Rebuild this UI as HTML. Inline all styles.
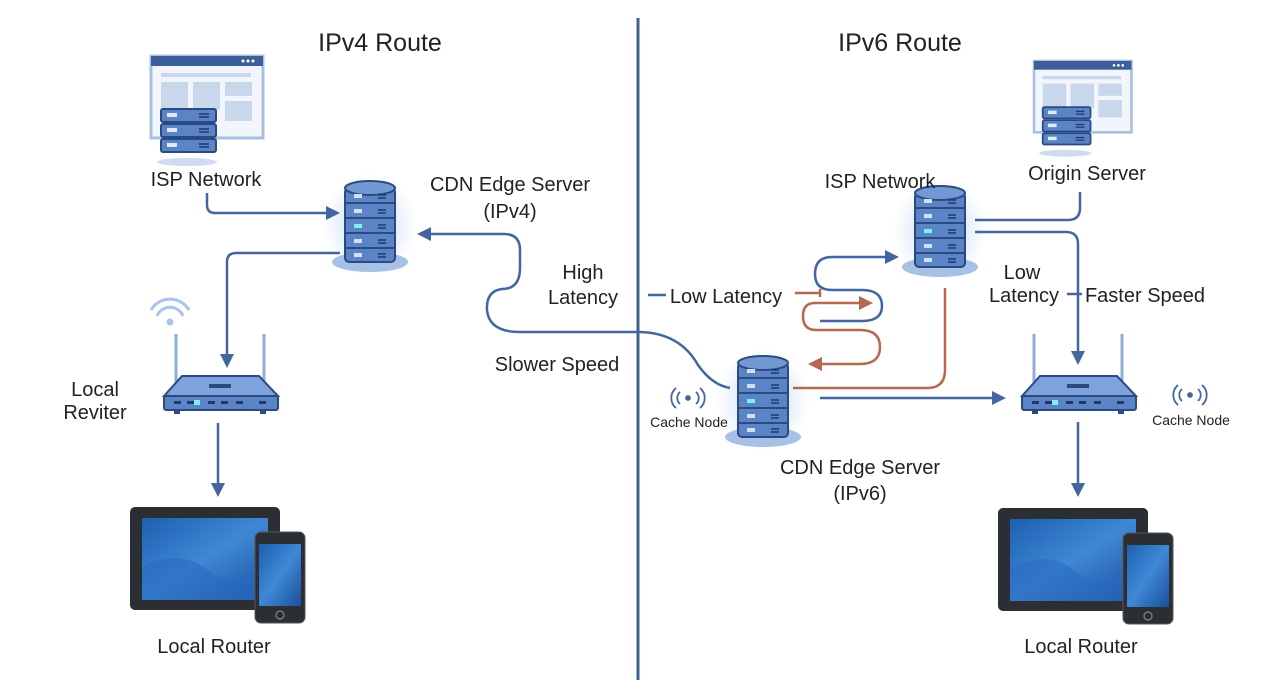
<!DOCTYPE html>
<html><head><meta charset="utf-8"><style>
html,body{margin:0;padding:0;background:#fff;}
svg{display:block;font-family:"Liberation Sans",sans-serif;}
</style></head><body>
<svg width="1280" height="698" viewBox="0 0 1280 698" xmlns="http://www.w3.org/2000/svg">
<defs>
<radialGradient id="glow"><stop offset="0" stop-color="#9fbde9" stop-opacity="0.8"/><stop offset="1" stop-color="#c9dcf5" stop-opacity="0"/></radialGradient>
<linearGradient id="scr" x1="0" y1="0" x2="1" y2="1"><stop offset="0" stop-color="#1d5fb0"/><stop offset="0.5" stop-color="#3f88d6"/><stop offset="1" stop-color="#1a4f9a"/></linearGradient>
<g id="db">
<ellipse cx="28" cy="45" rx="48" ry="52" fill="url(#glow)"/>
<ellipse cx="28" cy="82" rx="38" ry="10" fill="#a7c0e6"/>
<rect x="3" y="8" width="50" height="74" rx="4" fill="#5a84c6" stroke="#2c4a82" stroke-width="2"/>
<ellipse cx="28" cy="8" rx="25" ry="7" fill="#7399d4" stroke="#2c4a82" stroke-width="2"/>
<g stroke="#2c4a82" stroke-width="2"><line x1="3" y1="23" x2="53" y2="23"/><line x1="3" y1="38" x2="53" y2="38"/><line x1="3" y1="53" x2="53" y2="53"/><line x1="3" y1="68" x2="53" y2="68"/></g>
<g fill="#cfe0f7"><rect x="12" y="14" width="8" height="4"/><rect x="12" y="29" width="8" height="4"/><rect x="12" y="44" width="8" height="4" fill="#7ef0f0"/><rect x="12" y="59" width="8" height="4"/><rect x="12" y="73" width="8" height="4"/></g>
<g stroke="#213a6b" stroke-width="1.5"><line x1="36" y1="15" x2="44" y2="15"/><line x1="36" y1="18" x2="44" y2="18"/><line x1="36" y1="30" x2="44" y2="30"/><line x1="36" y1="33" x2="44" y2="33"/><line x1="36" y1="45" x2="44" y2="45"/><line x1="36" y1="48" x2="44" y2="48"/><line x1="36" y1="60" x2="44" y2="60"/><line x1="36" y1="63" x2="44" y2="63"/><line x1="36" y1="74" x2="44" y2="74"/><line x1="36" y1="77" x2="44" y2="77"/></g>
</g>
<g id="win">
<rect x="0" y="0" width="112" height="82" fill="#f2f6fc" stroke="#a9bfe0" stroke-width="3"/>
<rect x="0" y="0" width="112" height="10" fill="#3d5f98"/>
<g fill="#fff"><circle cx="92" cy="5" r="1.5"/><circle cx="97" cy="5" r="1.5"/><circle cx="102" cy="5" r="1.5"/></g>
<rect x="10" y="17" width="90" height="4" fill="#c9d7ec"/>
<g fill="#c9d7ec"><rect x="10" y="26" width="27" height="28"/><rect x="42" y="26" width="27" height="28"/><rect x="74" y="26" width="27" height="14"/><rect x="74" y="45" width="27" height="20"/></g>
<ellipse cx="36" cy="106" rx="30" ry="4" fill="#cfdcf0"/>
<g fill="#5a84c6" stroke="#2c4a82" stroke-width="2"><rect x="10" y="53" width="55" height="13" rx="2"/><rect x="10" y="68" width="55" height="13" rx="2"/><rect x="10" y="83" width="55" height="13" rx="2"/></g>
<g stroke="#213a6b" stroke-width="1.5"><line x1="48" y1="58" x2="58" y2="58"/><line x1="48" y1="61" x2="58" y2="61"/><line x1="48" y1="73" x2="58" y2="73"/><line x1="48" y1="76" x2="58" y2="76"/><line x1="48" y1="88" x2="58" y2="88"/><line x1="48" y1="91" x2="58" y2="91"/></g>
<g fill="#dfeaf8"><rect x="16" y="57" width="10" height="4"/><rect x="16" y="72" width="10" height="4"/><rect x="16" y="87" width="10" height="4"/></g>
</g>
<g id="router">
<line x1="12" y1="0" x2="12" y2="48" stroke="#8fadd8" stroke-width="3"/>
<line x1="100" y1="0" x2="100" y2="48" stroke="#8fadd8" stroke-width="3"/>
<path d="M0 62 L18 42 H95 L114 62 Z" fill="#7ea2dc" stroke="#2c4a82" stroke-width="2"/>
<rect x="0" y="62" width="114" height="14" rx="2" fill="#5a84c6" stroke="#2c4a82" stroke-width="2"/>
<rect x="45" y="50" width="22" height="4" fill="#2c4a82"/>
<g fill="#213a6b"><rect x="10" y="67" width="7" height="3"/><rect x="23" y="67" width="7" height="3"/><rect x="44" y="67" width="7" height="3"/><rect x="57" y="67" width="7" height="3"/><rect x="72" y="67" width="7" height="3"/><rect x="95" y="67" width="7" height="3"/></g>
<rect x="30" y="66" width="6" height="5" fill="#7ef0f0"/>
<rect x="10" y="77" width="6" height="3" fill="#2c4a82"/><rect x="96" y="77" width="6" height="3" fill="#2c4a82"/>
</g>
<g id="dev">
<rect x="0" y="0" width="150" height="103" rx="5" fill="#2b2e33"/>
<rect x="12" y="11" width="126" height="82" fill="url(#scr)"/>
<path d="M12 60 Q50 40 80 65 Q110 85 138 50 V93 H12Z" fill="#2a6bc0" opacity="0.6"/>
<rect x="125" y="25" width="50" height="91" rx="6" fill="#2b2e33" stroke="#555" stroke-width="1"/>
<rect x="129" y="37" width="42" height="62" fill="url(#scr)"/>
<circle cx="150" cy="108" r="4" fill="none" stroke="#888" stroke-width="1.2"/>
</g>
<g id="wifi" fill="none" stroke="#4466a0" stroke-width="1.8">
<path d="M-4 -6 A8 8 0 0 0 -4 6"/><path d="M-8 -10 A13 13 0 0 0 -8 10"/>
<path d="M12 -6 A8 8 0 0 1 12 6"/><path d="M16 -10 A13 13 0 0 1 16 10"/>
<circle cx="4" cy="0" r="2" fill="#4466a0"/>
</g>
</defs>

<line x1="638" y1="18" x2="638" y2="680" stroke="#3f5f91" stroke-width="3"/>

<text x="380" y="51" font-size="25" text-anchor="middle" fill="#222">IPv4 Route</text>
<text x="900" y="51" font-size="25" text-anchor="middle" fill="#222">IPv6 Route</text>

<use href="#win" x="151" y="56"/>
<use href="#win" x="1034" y="61" transform="translate(1034 61) scale(0.87) translate(-1034 -61)"/>
<use href="#db" x="342" y="180"/>
<use href="#db" x="912" y="185"/>
<use href="#db" x="735" y="355"/>

<g fill="none" stroke="#a9c4ea" stroke-width="3"><path d="M157 316 A14 14 0 0 1 183 316"/><path d="M151 310 A22 22 0 0 1 189 310"/><circle cx="170" cy="322" r="2" fill="#a9c4ea"/></g>
<use href="#router" x="164" y="334"/>
<use href="#router" x="1022" y="334"/>
<use href="#dev" x="130" y="507"/>
<use href="#dev" x="998" y="508"/>
<use href="#wifi" x="684" y="398"/>
<use href="#wifi" x="1186" y="395"/>

<g fill="none" stroke="#4466a0" stroke-width="2.5">
<path d="M207 193 V205 Q207 213 215 213 H328"/>
<path d="M340 253 H236 Q227 253 227 262 V360"/>
<path d="M218 423 V486"/>
<path d="M428 234 H504 Q520 234 520 250 V268 Q520 289 502 289 Q486 291 487 310 Q489 332 520 332 H640 Q680 333 698 365 Q712 385 730 388"/>
<path d="M648 295 H666"/>
<path d="M820 321 H862 Q882 321 882 306 Q882 290 862 290 H832 Q815 290 815 274 Q815 257 832 257 H888"/>
<path d="M820 398 H995"/>
<path d="M975 220 H1068 Q1080 220 1080 208 V192"/>
<path d="M975 232 H1066 Q1078 232 1078 244 V355"/>
<path d="M1078 422 V486"/>
<path d="M1067 294 H1082"/>
</g>
<g fill="#4466a0">
<path d="M340 213 L326 206 V220Z"/>
<path d="M227 368 L220 354 H234Z"/>
<path d="M218 497 L211 483 H225Z"/>
<path d="M417 234 L431 227 V241Z"/>
<path d="M899 257 L885 250 V264Z"/>
<path d="M1006 398 L992 391 V405Z"/>
<path d="M1078 365 L1071 351 H1085Z"/>
<path d="M1078 497 L1071 483 H1085Z"/>
</g>
<g fill="none" stroke="#b5694f" stroke-width="2.5">
<path d="M795 293 H820 M820 289 V297"/>
<path d="M862 303 H815 Q803 303 803 316 Q803 330 816 330 H860 Q880 330 880 347 Q880 364 860 364 H818"/>
<path d="M945 288 V370 Q945 388 927 388 H793"/>
</g>
<g fill="#b5694f">
<path d="M873 303 L859 296 V310Z"/>
<path d="M808 364 L822 357 V371Z"/>
</g>

<g font-size="20" fill="#222">
<text x="206" y="186" text-anchor="middle">ISP Network</text>
<text x="510" y="191" text-anchor="middle">CDN Edge Server</text>
<text x="510" y="218" text-anchor="middle">(IPv4)</text>
<text x="583" y="279" text-anchor="middle">High</text>
<text x="583" y="304" text-anchor="middle">Latency</text>
<text x="557" y="371" text-anchor="middle">Slower Speed</text>
<text x="95" y="396" text-anchor="middle">Local</text>
<text x="95" y="419" text-anchor="middle">Reviter</text>
<text x="214" y="653" text-anchor="middle">Local Router</text>
<text x="726" y="303" text-anchor="middle">Low Latency</text>
<text x="880" y="188" text-anchor="middle">ISP Network</text>
<text x="1087" y="180" text-anchor="middle">Origin Server</text>
<text x="1022" y="279" text-anchor="middle">Low</text>
<text x="1024" y="302" text-anchor="middle">Latency</text>
<text x="1145" y="302" text-anchor="middle">Faster Speed</text>
<text x="860" y="474" text-anchor="middle">CDN Edge Server</text>
<text x="860" y="500" text-anchor="middle">(IPv6)</text>
<text x="1081" y="653" text-anchor="middle">Local Router</text>
</g>
<g font-size="14" fill="#222">
<text x="689" y="427" text-anchor="middle">Cache Node</text>
<text x="1191" y="425" text-anchor="middle">Cache Node</text>
</g>
</svg>
</body></html>
